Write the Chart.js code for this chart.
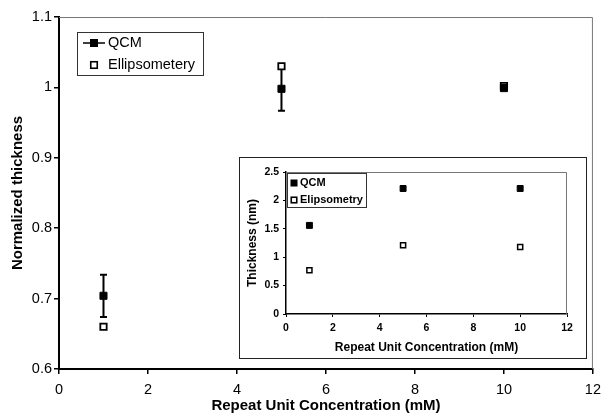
<!DOCTYPE html>
<html>
<head>
<meta charset="utf-8">
<script src="https://cdn.jsdelivr.net/npm/chart.js@4.4.1/dist/chart.umd.min.js"></script>
<style>
body { margin: 0; background: #fff; }
#wrap { position: relative; width: 608px; height: 417px; }
#mainChart { position: absolute; left: 0; top: 0; }
#inset { position: absolute; left: 239px; top: 157px; width: 346px; height: 200px; border: 1px solid #222; background: #fff; }
#insetChart { position: absolute; left: 0; top: 0; }
</style>
</head>
<body>
<div id="wrap">
  <canvas id="mainChart" width="608" height="417"></canvas>
  <div id="inset"><canvas id="insetChart" width="346" height="200"></canvas></div>
</div>
<script>
Chart.defaults.font.family = '"Liberation Sans", Arial, sans-serif';
Chart.defaults.color = '#000';

// data
const concentration = [1, 5, 10];
const qcmNormalized = [0.704, 0.998, 0.999];
const qcmError = [0.030, 0.031, 0.003];
const ellipsNormalized = [0.660, 1.030, 1.002];
const qcmThickness = [1.56, 2.21, 2.21];
const ellipsThickness = [0.77, 1.21, 1.18];

const xTicks = [0, 2, 4, 6, 8, 10, 12];
const mainYTicks = [0.6, 0.7, 0.8, 0.9, 1, 1.1];
const insetYTicks = [0, 0.5, 1, 1.5, 2, 2.5];

const mainLegendLabels = ["QCM", "Ellipsometery"];
const insetLegendLabels = ["QCM", "Elipsometry"];

function toPoints(xs, ys){
    return xs.map((x, i) => ({x: x, y: ys[i]}));
}

function fixedTicks(list){
    return function(scale){ scale.ticks = list.map((v) => ({value: v})); };
}

// grey top/right frame of the plot area
const frameBox = {
    id: 'frameBox',
    beforeDatasetsDraw(chart){
        const {ctx, chartArea: a} = chart;
        ctx.save();
        ctx.strokeStyle = '#777';
        ctx.lineWidth = 1;
        ctx.beginPath();
        ctx.moveTo(a.left, a.top + 0.5);
        ctx.lineTo(a.right - 0.5, a.top + 0.5);
        ctx.lineTo(a.right - 0.5, a.bottom);
        ctx.stroke();
        ctx.restore();
    }
};

const errorBars = {
    id: 'errorBars',
    beforeDatasetsDraw(chart){
        const {ctx} = chart;
        const xs = chart.scales.x, ys = chart.scales.y;
        ctx.save();
        ctx.strokeStyle = '#000';
        ctx.lineWidth = 2;
        concentration.forEach((c, i) => {
            let px = xs.getPixelForValue(c);
            let top = ys.getPixelForValue(qcmNormalized[i] + qcmError[i]);
            let bot = ys.getPixelForValue(qcmNormalized[i] - qcmError[i]);
            ctx.beginPath();
            ctx.moveTo(px, top); ctx.lineTo(px, bot);
            ctx.moveTo(px - 3.5, top); ctx.lineTo(px + 3.5, top);
            ctx.moveTo(px - 3.5, bot); ctx.lineTo(px + 3.5, bot);
            ctx.stroke();
        });
        ctx.restore();
    }
};

function boxLegend(box){
    return {
        id: 'boxLegend',
        afterDraw(chart){
            const ctx = chart.ctx;
            ctx.save();
            ctx.fillStyle = '#fff';
            ctx.fillRect(box.x, box.y, box.w, box.h);
            ctx.strokeStyle = '#333';
            ctx.lineWidth = 1;
            ctx.strokeRect(box.x + 0.5, box.y + 0.5, box.w, box.h);
            ctx.font = box.font;
            ctx.textBaseline = 'middle';
            box.labels.forEach((label, i) => {
                let y = box.y + box.rowY[i];
                let mx = box.x + box.markerX;
                ctx.strokeStyle = '#000';
                if(i === 0){
                    if(box.withLine){
                        ctx.lineWidth = 1.5;
                        ctx.beginPath();
                        ctx.moveTo(mx - 11, y); ctx.lineTo(mx + 11, y);
                        ctx.stroke();
                    }
                    ctx.fillStyle = '#000';
                    ctx.fillRect(mx - box.size/2, y - box.size/2, box.size, box.size);
                }else{
                    ctx.fillStyle = '#fff';
                    ctx.lineWidth = 1.6;
                    let s = box.size - 1.5;
                    ctx.fillRect(mx - s/2, y - s/2, s, s);
                    ctx.strokeRect(mx - s/2, y - s/2, s, s);
                }
                ctx.fillStyle = '#000';
                ctx.fillText(label, box.x + box.textX, y);
            });
            ctx.restore();
        }
    };
}

// main chart
new Chart(document.getElementById('mainChart').getContext('2d'), {
    type: 'scatter',
    data: {
        datasets: [{
            label: mainLegendLabels[0],
            data: toPoints(concentration, qcmNormalized),
            pointStyle: 'rect',
            pointRadius: 5,
            backgroundColor: '#000',
            borderColor: '#000',
            borderWidth: 1
        }, {
            label: mainLegendLabels[1],
            data: toPoints(concentration, ellipsNormalized),
            pointStyle: 'rect',
            pointRadius: 4.5,
            backgroundColor: '#fff',
            borderColor: '#000',
            borderWidth: 1.8
        }]
    },
    options: {
        responsive: false,
        animation: false,
        layout: { padding: { top: 17, right: 10, left: 0, bottom: 0 } },
        plugins: { legend: { display: false }, tooltip: { enabled: false } },
        scales: {
            x: {
                type: 'linear', min: 0, max: 12,
                afterBuildTicks: fixedTicks(xTicks),
                afterFit(s){ s.height = 48; },
                ticks: { font: { size: 14.5 }, padding: 7, color: '#000' },
                grid: { drawOnChartArea: false, tickLength: 5, color: '#000', lineWidth: 1.5 },
                border: { color: '#000', width: 2 },
                title: { display: true, text: 'Repeat Unit Concentration (mM)', color: '#000',
                    font: { size: 15, weight: 'bold' }, padding: { top: 0, bottom: 2 } }
            },
            y: {
                min: 0.6, max: 1.1,
                afterBuildTicks: fixedTicks(mainYTicks),
                afterFit(s){ s.width = 59; },
                ticks: { font: { size: 14.5 }, padding: 2, color: '#000', callback: (v) => String(v) },
                grid: { drawOnChartArea: false, tickLength: 5, color: '#000', lineWidth: 1.5 },
                border: { color: '#000', width: 2 },
                title: { display: true, text: 'Normalized thickness', color: '#000',
                    font: { size: 15, weight: 'bold' }, padding: { top: 9, bottom: 0 } }
            }
        }
    },
    plugins: [frameBox, errorBars, boxLegend({
        x: 77, y: 32, w: 126, h: 43, markerX: 17, textX: 31, rowY: [11, 33],
        size: 8, withLine: true, font: '14.5px "Liberation Sans", Arial, sans-serif',
        labels: mainLegendLabels
    })]
});

// inset chart
new Chart(document.getElementById('insetChart').getContext('2d'), {
    type: 'scatter',
    data: {
        datasets: [{
            label: insetLegendLabels[0],
            data: toPoints(concentration, qcmThickness),
            pointStyle: 'rect',
            pointRadius: 4.2,
            backgroundColor: '#000',
            borderColor: '#000',
            borderWidth: 1
        }, {
            label: insetLegendLabels[1],
            data: toPoints(concentration, ellipsThickness),
            pointStyle: 'rect',
            pointRadius: 3.6,
            backgroundColor: '#fff',
            borderColor: '#000',
            borderWidth: 1.5
        }]
    },
    options: {
        responsive: false,
        animation: false,
        layout: { padding: { top: 14, right: 19, left: 0, bottom: 0 } },
        plugins: { legend: { display: false }, tooltip: { enabled: false } },
        scales: {
            x: {
                type: 'linear', min: 0, max: 12,
                afterBuildTicks: fixedTicks(xTicks),
                afterFit(s){ s.height = 44; },
                ticks: { font: { size: 10.5, weight: 'bold' }, padding: 5, color: '#000' },
                grid: { drawOnChartArea: false, tickLength: 3, color: '#000' },
                border: { color: '#000', width: 1.5 },
                title: { display: true, text: 'Repeat Unit Concentration (mM)', color: '#000',
                    font: { size: 12, weight: 'bold' }, padding: { top: 0, bottom: 3 } }
            },
            y: {
                min: 0, max: 2.5,
                afterBuildTicks: fixedTicks(insetYTicks),
                afterFit(s){ s.width = 46; },
                ticks: { font: { size: 10.5, weight: 'bold' }, padding: 4, color: '#000', callback: (v) => String(v) },
                grid: { drawOnChartArea: false, tickLength: 3, color: '#000' },
                border: { color: '#000', width: 1.5 },
                title: { display: true, text: 'Thickness (nm)', color: '#000',
                    font: { size: 12, weight: 'bold' }, padding: { top: 5, bottom: 0 } }
            }
        }
    },
    plugins: [frameBox, boxLegend({
        x: 47, y: 15, w: 79, h: 34, markerX: 7, textX: 13, rowY: [10, 27],
        size: 7, withLine: false, font: 'bold 11px "Liberation Sans", Arial, sans-serif',
        labels: insetLegendLabels
    })]
});
</script>
</body>
</html>
